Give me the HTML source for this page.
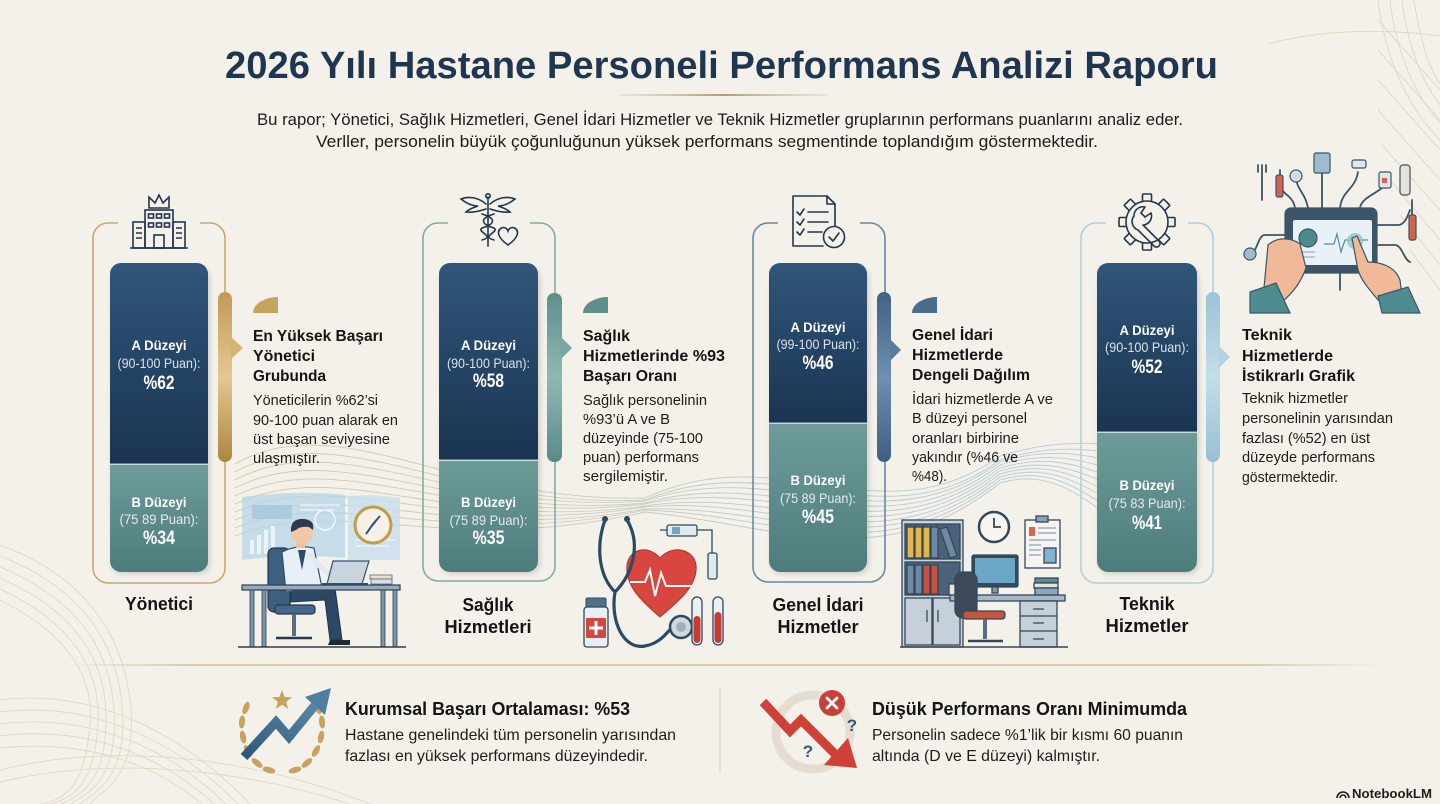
<!DOCTYPE html>
<html><head><meta charset="utf-8"><style>
html,body{margin:0;padding:0;background:#f3f1ea;}
svg{display:block;font-family:"Liberation Sans",sans-serif;}
</style></head><body>
<svg width="1440" height="804" viewBox="0 0 1440 804" xmlns="http://www.w3.org/2000/svg">
<defs>
 <linearGradient id="dk" x1="0" y1="0" x2="0" y2="1"><stop offset="0" stop-color="#30567a"/><stop offset="1" stop-color="#1b3452"/></linearGradient>
 <linearGradient id="lt" x1="0" y1="0" x2="0" y2="1"><stop offset="0" stop-color="#6e9c99"/><stop offset="1" stop-color="#4d7c7d"/></linearGradient>
 <linearGradient id="gold" x1="0" y1="0" x2="0" y2="1"><stop offset="0" stop-color="#c19a57"/><stop offset=".5" stop-color="#e4c88f"/><stop offset="1" stop-color="#ad8541"/></linearGradient>
 <linearGradient id="teal" x1="0" y1="0" x2="0" y2="1"><stop offset="0" stop-color="#5e8f8c"/><stop offset=".5" stop-color="#8fb8b4"/><stop offset="1" stop-color="#5a8a88"/></linearGradient>
 <linearGradient id="slate" x1="0" y1="0" x2="0" y2="1"><stop offset="0" stop-color="#3f6283"/><stop offset=".5" stop-color="#6f90ae"/><stop offset="1" stop-color="#3d5f80"/></linearGradient>
 <linearGradient id="sky" x1="0" y1="0" x2="0" y2="1"><stop offset="0" stop-color="#9cc2d6"/><stop offset=".5" stop-color="#c4dde9"/><stop offset="1" stop-color="#98bfd3"/></linearGradient>
 <linearGradient id="wave" gradientUnits="userSpaceOnUse" x1="235" y1="0" x2="1110" y2="0"><stop offset="0" stop-color="#c8a872"/><stop offset=".4" stop-color="#b9b8a6"/><stop offset=".6" stop-color="#8fb0b5"/><stop offset="1" stop-color="#8fb3cc"/></linearGradient>
 <linearGradient id="hline" x1="0" y1="0" x2="1" y2="0"><stop offset="0" stop-color="#d9cbb0" stop-opacity="0"/><stop offset=".1" stop-color="#d9cbb0"/><stop offset=".9" stop-color="#d9cbb0"/><stop offset="1" stop-color="#d9cbb0" stop-opacity="0"/></linearGradient>
 <linearGradient id="tline" x1="0" y1="0" x2="1" y2="0"><stop offset="0" stop-color="#c9b48e" stop-opacity=".2"/><stop offset=".5" stop-color="#b89a66"/><stop offset="1" stop-color="#c9b48e" stop-opacity=".2"/></linearGradient>
 <linearGradient id="arrowb" x1="0" y1="1" x2="1" y2="0"><stop offset="0" stop-color="#2f5878"/><stop offset="1" stop-color="#5a88a8"/></linearGradient>
 <filter id="sh" x="-20%" y="-20%" width="140%" height="140%"><feGaussianBlur stdDeviation="3"/></filter>
 <clipPath id="c1"><rect x="110" y="263" width="98" height="309" rx="11"/></clipPath>
 <clipPath id="c2"><rect x="439" y="263" width="99" height="309" rx="11"/></clipPath>
 <clipPath id="c3"><rect x="769" y="263" width="98" height="309" rx="11"/></clipPath>
 <clipPath id="c4"><rect x="1097" y="263" width="100" height="309" rx="11"/></clipPath>
</defs>

<rect width="1440" height="804" fill="#f3f1ea"/>

<!-- corner decorations -->
<g fill="none" stroke="#d6c5a3" stroke-width="0.9" opacity="0.55">
 <path d="M0,545 C70,570 120,620 130,700 S100,790 90,804"/>
 <path d="M0,556 C68,582 115,630 122,705 S94,792 80,804"/>
 <path d="M0,567 C66,594 110,640 114,710 S88,794 70,804"/>
 <path d="M0,578 C64,606 105,650 106,715 S82,796 60,804"/>
 <path d="M0,589 C62,618 100,660 98,720 S76,798 50,804"/>
 <path d="M0,600 C60,630 95,670 90,725 S70,800 40,804"/>
 <path d="M0,700 C80,690 170,720 250,804"/>
 <path d="M0,712 C80,702 165,730 238,804"/>
 <path d="M0,724 C80,714 160,740 226,804"/>
 <path d="M0,736 C80,726 155,750 214,804"/>
 <path d="M0,748 C80,740 150,760 202,804"/>
 <path d="M0,770 C120,740 260,760 370,804"/>
 <path d="M0,782 C120,754 250,772 350,804"/>
</g>
<g fill="none" stroke="#d6c5a3" stroke-width="0.9" opacity="0.6">
 <path d="M1268,44 C1320,30 1380,28 1440,36"/>
 <path d="M1378,0 C1385,60 1410,110 1440,140"/>
 <path d="M1390,0 C1396,55 1418,100 1440,122"/>
 <path d="M1402,0 C1408,48 1424,86 1440,104"/>
 <path d="M1414,0 C1420,40 1430,70 1440,84"/>
 <path d="M1378,20 L1440,90"/>
 <path d="M1378,50 L1440,120"/>
 <path d="M1378,80 L1440,150"/>
 <path d="M1378,110 L1440,180"/>
 <path d="M1382,145 L1440,210"/>
 <path d="M1390,180 L1440,240"/>
 <path d="M1400,215 L1440,265"/>
 <path d="M1410,250 L1440,290"/>
</g>

<!-- title -->
<text x="225" y="78" font-size="38" font-weight="700" fill="#1f3650" textLength="993" lengthAdjust="spacingAndGlyphs">2026 Yılı Hastane Personeli Performans Analizi Raporu</text>
<rect x="619" y="94" width="208" height="2" fill="url(#tline)"/>
<text x="257" y="125" font-size="17" fill="#1c1c1c" textLength="926" lengthAdjust="spacingAndGlyphs">Bu rapor; Yönetici, Sağlık Hizmetleri, Genel İdari Hizmetler ve Teknik Hizmetler gruplarının performans puanlarını analiz eder.</text>
<text x="316" y="147" font-size="17" fill="#1c1c1c" textLength="782" lengthAdjust="spacingAndGlyphs">Verller, personelin büyük çoğunluğunun yüksek performans segmentinde toplandığım göstermektedir.</text>

<!-- wavy band -->
<g fill="none" stroke="url(#wave)" stroke-width="0.9" opacity="0.6">
 <path d="M235,464 C340,405 450,503 645,498 C780,435 880,542 1000,456 C1050,441 1080,443 1110,444"/>
 <path d="M235,472 C340,415 450,509 645,500 C780,445 880,546 1000,460 C1050,445 1080,449 1110,452"/>
 <path d="M235,480 C340,425 450,515 645,501 C780,455 880,550 1000,462 C1050,447 1080,455 1110,460"/>
 <path d="M235,488 C340,435 450,521 645,503 C780,465 880,554 1000,465 C1050,450 1080,461 1110,468"/>
 <path d="M235,496 C340,445 450,527 645,504 C780,475 880,558 1000,468 C1050,453 1080,467 1110,476"/>
 <path d="M235,504 C340,455 450,533 645,506 C780,485 880,562 1000,471 C1050,456 1080,473 1110,484"/>
 <path d="M235,512 C340,465 450,539 645,507 C780,495 880,566 1000,474 C1050,459 1080,479 1110,492"/>
 <path d="M235,520 C340,475 450,545 645,509 C780,505 880,570 1000,477 C1050,462 1080,485 1110,500"/>
 <path d="M235,528 C340,485 450,551 645,510 C780,515 880,574 1000,480 C1050,465 1080,491 1110,508"/>
 <path d="M235,536 C340,495 450,557 645,512 C780,525 880,578 1000,483 C1050,468 1080,497 1110,516"/>
</g>

<!-- ============ GROUP 1 : Yönetici ============ -->
<path d="M118,223 H108 A15,15 0 0 0 93,238 V568 A15,15 0 0 0 108,583 H210 A15,15 0 0 0 225,568 V238 A15,15 0 0 0 210,223 H200" fill="none" stroke="#c9a86c" stroke-width="1.6"/>
<!-- building icon -->
<g fill="none" stroke="#22364d" stroke-width="1.6">
 <path d="M149,208 V197 L155,203 L159,195 L163,203 L169,197 V208 Z"/>
 <rect x="145" y="210" width="28" height="38"/>
 <rect x="133" y="222" width="12" height="26"/>
 <rect x="173" y="222" width="12" height="26"/>
 <rect x="148.5" y="214" width="5" height="4"/><rect x="156.5" y="214" width="5" height="4"/><rect x="164.5" y="214" width="5" height="4"/>
 <rect x="148.5" y="223" width="5" height="4"/><rect x="156.5" y="223" width="5" height="4"/><rect x="164.5" y="223" width="5" height="4"/>
 <rect x="154" y="235" width="10" height="13"/>
 <path d="M136,228 H142 M136,233 H142 M136,238 H142 M176,228 H182 M176,233 H182 M176,238 H182"/>
 <path d="M130,248 H188"/>
</g>
<rect x="112" y="268" width="98" height="306" rx="11" fill="#000" opacity=".15" filter="url(#sh)"/>
<g clip-path="url(#c1)">
 <rect x="110" y="263" width="98" height="201" fill="url(#dk)"/>
 <rect x="110" y="464" width="98" height="108" fill="url(#lt)"/>
 <rect x="110" y="463.5" width="98" height="1.5" fill="#dfe8ea" opacity=".8"/>
</g>
<text x="159" y="350" font-size="14" font-weight="700" fill="#fff" text-anchor="middle" textLength="55" lengthAdjust="spacingAndGlyphs">A Düzeyi</text>
<text x="159" y="368" font-size="14" fill="#d8e2ea" text-anchor="middle" textLength="83" lengthAdjust="spacingAndGlyphs">(90-100 Puan):</text>
<text x="159" y="389" font-size="19" font-weight="700" fill="#fff" text-anchor="middle" textLength="31" lengthAdjust="spacingAndGlyphs">%62</text>
<text x="159" y="507" font-size="14" font-weight="700" fill="#fff" text-anchor="middle" textLength="55" lengthAdjust="spacingAndGlyphs">B Düzeyi</text>
<text x="159" y="524" font-size="14" fill="#e2ecea" text-anchor="middle" textLength="79" lengthAdjust="spacingAndGlyphs">(75 89 Puan):</text>
<text x="159" y="544" font-size="19" font-weight="700" fill="#fff" text-anchor="middle" textLength="32" lengthAdjust="spacingAndGlyphs">%34</text>
<text x="159" y="610" font-size="18" font-weight="700" fill="#141414" text-anchor="middle" textLength="68" lengthAdjust="spacingAndGlyphs">Yönetici</text>
<rect x="218" y="292" width="14" height="170" rx="7" fill="url(#gold)"/>
<polygon points="231,337 243,348 231,359" fill="#d4b373"/>
<path d="M253,313 A25,16 0 0 1 278,297 L278,313 Z" fill="#c9a25f"/>
<g fill="#141414">
<text x="253" y="341" font-size="16" font-weight="700" textLength="130" lengthAdjust="spacingAndGlyphs">En Yüksek Başarı</text>
<text x="253" y="361" font-size="16" font-weight="700" textLength="62" lengthAdjust="spacingAndGlyphs">Yönetici</text>
<text x="253" y="381" font-size="16" font-weight="700" textLength="73" lengthAdjust="spacingAndGlyphs">Grubunda</text>
</g>
<g fill="#1d1d1d" font-size="15">
<text x="253" y="405" textLength="125" lengthAdjust="spacingAndGlyphs">Yöneticilerin %62’si</text>
<text x="253" y="425" textLength="145" lengthAdjust="spacingAndGlyphs">90-100 puan alarak en</text>
<text x="253" y="444" textLength="137" lengthAdjust="spacingAndGlyphs">üst başan seviyesine</text>
<text x="253" y="463" textLength="67" lengthAdjust="spacingAndGlyphs">ulaşmıştır.</text>
</g>
<!-- man at desk illustration -->
<g>
 <path d="M242,497 Q295,490 345,495 L345,558 Q295,553 242,560 Z" fill="#b7d6e8" opacity=".75"/>
 <path d="M348,496 Q375,494 400,498 V560 H348 Z" fill="#c5dfee" opacity=".8"/>
 <g fill="#eef6fb" opacity=".9">
  <rect x="250" y="540" width="4" height="14"/><rect x="257" y="535" width="4" height="19"/><rect x="264" y="530" width="4" height="24"/><rect x="271" y="526" width="4" height="28"/>
 </g>
 <rect x="252" y="505" width="40" height="14" fill="#9fc3da" opacity=".7"/>
 <circle cx="325" cy="520" r="10" fill="none" stroke="#eef6fb" stroke-width="1.5"/>
 <path d="M355,540 H395 M355,546 H390 M300,505 H340 M300,510 H335" stroke="#eef6fb" stroke-width="1.2"/>
 <circle cx="373" cy="525" r="18" fill="#f6f1e4" stroke="#c49a4c" stroke-width="3"/>
 <path d="M380,516 L372,527 L366,534 L375,524 Z" fill="#c9473d"/>
 <path d="M366,534 L373,524 L380,516" stroke="#2d5a7c" stroke-width="2" fill="none"/>
 <rect x="268" y="548" width="22" height="64" rx="6" fill="#3e5f7e" stroke="#24384d" stroke-width="1.2"/>
 <rect x="275" y="605" width="40" height="9" rx="3" fill="#45688a" stroke="#24384d" stroke-width="1.2"/>
 <rect x="292" y="614" width="4" height="22" fill="#5a6e80"/>
 <path d="M276,638 H312" stroke="#24384d" stroke-width="2.5"/>
 <path d="M292,585 L335,588 L342,640 L330,640 L325,600 L290,602 Z" fill="#2d4864" stroke="#1e3246" stroke-width="1"/>
 <path d="M330,640 H350 V645 H328 Z" fill="#1e2a36"/>
 <path d="M282,552 Q297,544 314,548 L322,588 L286,592 Z" fill="#e6f0f6" stroke="#35506a" stroke-width="1.2"/>
 <path d="M298,550 L302,570 L306,550 Z" fill="#2d4d70"/>
 <path d="M310,556 Q325,572 338,580" stroke="#dfeaf2" stroke-width="6" fill="none" stroke-linecap="round"/>
 <rect x="296" y="540" width="9" height="8" fill="#eebf9c"/>
 <circle cx="302" cy="533" r="11" fill="#f1c8a5"/>
 <path d="M291,532 Q290,518 304,519 Q315,520 313,530 L309,527 Q300,526 296,530 Z" fill="#2b3a4e"/>
 <path d="M333,561 H369 L362,584 H327 Z" fill="#c9d4de" stroke="#35506a" stroke-width="1.2"/>
 <path d="M322,584 H368" stroke="#35506a" stroke-width="2"/>
 <rect x="370" y="575" width="22" height="4" fill="#e8e2d2" stroke="#566a7c" stroke-width=".8"/>
 <rect x="371" y="579" width="21" height="5" fill="#d8dfe5" stroke="#566a7c" stroke-width=".8"/>
 <rect x="242" y="585" width="158" height="5" fill="#97aabb" stroke="#2b3f55" stroke-width="1.2"/>
 <rect x="250" y="590" width="4" height="57" fill="#7f94a7" stroke="#2b3f55" stroke-width=".8"/>
 <rect x="262" y="590" width="4" height="57" fill="#7f94a7" stroke="#2b3f55" stroke-width=".8"/>
 <rect x="381" y="590" width="4" height="57" fill="#7f94a7" stroke="#2b3f55" stroke-width=".8"/>
 <rect x="393" y="590" width="4" height="57" fill="#7f94a7" stroke="#2b3f55" stroke-width=".8"/>
 <path d="M238,647 H406" stroke="#2b3f55" stroke-width="1.5"/>
</g>

<!-- ============ GROUP 2 : Sağlık ============ -->
<path d="M448,223 H438 A15,15 0 0 0 423,238 V566 A15,15 0 0 0 438,581 H540 A15,15 0 0 0 555,566 V238 A15,15 0 0 0 540,223 H530" fill="none" stroke="#86aaa7" stroke-width="1.6"/>
<!-- caduceus icon -->
<g fill="none" stroke="#22364d" stroke-width="1.6" stroke-linecap="round">
 <path d="M488,197 V246"/>
 <circle cx="488" cy="196" r="2.2"/>
 <path d="M486,204 C478,197 468,196 461,199 C466,203 472,206 478,206 C472,208 468,210 466,212 C473,213 480,211 486,209"/>
 <path d="M490,204 C498,197 508,196 515,199 C510,203 504,206 498,206 C504,208 508,210 510,212 C503,213 496,211 490,209"/>
 <path d="M482,214 C496,218 496,224 482,228 C476,232 496,236 482,240"/>
 <path d="M494,214 C480,218 480,224 494,228 C500,232 480,236 494,240"/>
 <path d="M508,245 C498,238 497,232 500,229 C503,226 507,228 508,231 C509,228 513,226 516,229 C519,232 518,238 508,245 Z"/>
</g>
<rect x="441" y="268" width="99" height="306" rx="11" fill="#000" opacity=".15" filter="url(#sh)"/>
<g clip-path="url(#c2)">
 <rect x="439" y="263" width="99" height="197" fill="url(#dk)"/>
 <rect x="439" y="460" width="99" height="112" fill="url(#lt)"/>
 <rect x="439" y="459.5" width="99" height="1.5" fill="#dfe8ea" opacity=".8"/>
</g>
<text x="488.5" y="350" font-size="14" font-weight="700" fill="#fff" text-anchor="middle" textLength="55" lengthAdjust="spacingAndGlyphs">A Düzeyi</text>
<text x="488.5" y="368" font-size="14" fill="#d8e2ea" text-anchor="middle" textLength="83" lengthAdjust="spacingAndGlyphs">(90-100 Puan):</text>
<text x="488.5" y="387" font-size="19" font-weight="700" fill="#fff" text-anchor="middle" textLength="31" lengthAdjust="spacingAndGlyphs">%58</text>
<text x="488.5" y="507" font-size="14" font-weight="700" fill="#fff" text-anchor="middle" textLength="55" lengthAdjust="spacingAndGlyphs">B Düzeyi</text>
<text x="488.5" y="525" font-size="14" fill="#e2ecea" text-anchor="middle" textLength="78" lengthAdjust="spacingAndGlyphs">(75 89 Puan):</text>
<text x="488.5" y="544" font-size="19" font-weight="700" fill="#fff" text-anchor="middle" textLength="32" lengthAdjust="spacingAndGlyphs">%35</text>
<text x="488" y="611" font-size="18" font-weight="700" fill="#141414" text-anchor="middle" textLength="51" lengthAdjust="spacingAndGlyphs">Sağlık</text>
<text x="488" y="633" font-size="18" font-weight="700" fill="#141414" text-anchor="middle" textLength="87" lengthAdjust="spacingAndGlyphs">Hizmetleri</text>
<rect x="547" y="293" width="15" height="169" rx="7" fill="url(#teal)"/>
<polygon points="561,337 572,348 561,359" fill="#7aa6a3"/>
<path d="M583,313 A25,16 0 0 1 608,297 L608,313 Z" fill="#5f8f8c"/>
<g fill="#141414">
<text x="583" y="341" font-size="16" font-weight="700" textLength="47" lengthAdjust="spacingAndGlyphs">Sağlık</text>
<text x="583" y="361" font-size="16" font-weight="700" textLength="142" lengthAdjust="spacingAndGlyphs">Hizmetlerinde %93</text>
<text x="583" y="381" font-size="16" font-weight="700" textLength="94" lengthAdjust="spacingAndGlyphs">Başarı Oranı</text>
</g>
<g fill="#1d1d1d" font-size="15">
<text x="583" y="405" textLength="124" lengthAdjust="spacingAndGlyphs">Sağlık personelinin</text>
<text x="583" y="424" textLength="87" lengthAdjust="spacingAndGlyphs">%93’ü A ve B</text>
<text x="583" y="443" textLength="120" lengthAdjust="spacingAndGlyphs">düzeyinde (75-100</text>
<text x="583" y="462" textLength="116" lengthAdjust="spacingAndGlyphs">puan) performans</text>
<text x="583" y="481" textLength="85" lengthAdjust="spacingAndGlyphs">sergilemiştir.</text>
</g>
<!-- medical illustration -->
<g>
 <path d="M660,617 C640,600 625,585 627,565 C629,549 648,544 660,558 C672,544 694,549 696,565 C698,585 680,600 660,617 Z" fill="#d8463f" stroke="#a93630" stroke-width="1"/>
 <path d="M630,582 H645 L650,570 L655,596 L661,573 L666,586 H692" fill="none" stroke="#fff" stroke-width="2"/>
 <path d="M605,520 C596,545 598,575 615,592 M627,520 C642,545 632,575 615,592 M615,592 C610,622 624,650 645,646 C662,643 668,630 672,628" fill="none" stroke="#2b4a63" stroke-width="3.2" stroke-linecap="round"/>
 <circle cx="605" cy="519" r="3" fill="#2b4a63"/><circle cx="627" cy="519" r="3" fill="#2b4a63"/>
 <circle cx="681" cy="627" r="11" fill="#cfd8de" stroke="#2b4a63" stroke-width="2.5"/>
 <circle cx="681" cy="627" r="5" fill="#9fb0bc"/>
 <rect x="667" y="525" width="30" height="11" rx="2" fill="#dfe9ee" stroke="#2b4a63" stroke-width="1.3"/>
 <rect x="672" y="527" width="8" height="7" fill="#6fa5bf"/>
 <path d="M697,530 H712 V553 M660,530 H667" fill="none" stroke="#2b4a63" stroke-width="1.3"/>
 <rect x="708" y="553" width="9" height="26" rx="2" fill="#dfe9ee" stroke="#2b4a63" stroke-width="1.3"/>
 <rect x="586" y="598" width="20" height="9" rx="1.5" fill="#50708a" stroke="#2b4a63" stroke-width="1"/>
 <rect x="584" y="607" width="24" height="40" rx="3" fill="#e9eff3" stroke="#2b4a63" stroke-width="1.3"/>
 <rect x="586" y="618" width="20" height="20" fill="#d6463f"/>
 <path d="M596,621 V635 M589,628 H603" stroke="#fff" stroke-width="3"/>
 <rect x="692" y="597" width="10" height="48" rx="5" fill="#e9eff3" stroke="#2b4a63" stroke-width="1.3"/>
 <rect x="693.5" y="616" width="7" height="27" rx="3.5" fill="#c93a33"/>
 <rect x="713" y="597" width="10" height="48" rx="5" fill="#e9eff3" stroke="#2b4a63" stroke-width="1.3"/>
 <rect x="714.5" y="612" width="7" height="31" rx="3.5" fill="#c93a33"/>
</g>

<!-- ============ GROUP 3 : Genel İdari ============ -->
<path d="M778,223 H768 A15,15 0 0 0 753,238 V567 A15,15 0 0 0 768,582 H870 A15,15 0 0 0 885,567 V238 A15,15 0 0 0 870,223 H860" fill="none" stroke="#6a88a4" stroke-width="1.6"/>
<!-- checklist icon -->
<g fill="none" stroke="#22364d" stroke-width="1.6" stroke-linecap="round" stroke-linejoin="round">
 <path d="M823,246 H793 V196 H827 L835,204 V226"/>
 <path d="M827,196 V204 H835"/>
 <path d="M797,212 L800,215 L804,209 M797,222 L800,225 L804,219 M797,232 L800,235 L804,229"/>
 <path d="M808,212 H828 M808,222 H828 M808,232 H822"/>
 <circle cx="834" cy="237" r="10.5" fill="#f3f1ea"/>
 <path d="M829,237 L833,241 L839,233"/>
</g>
<rect x="771" y="268" width="98" height="306" rx="11" fill="#000" opacity=".15" filter="url(#sh)"/>
<g clip-path="url(#c3)">
 <rect x="769" y="263" width="98" height="160" fill="url(#dk)"/>
 <rect x="769" y="423" width="98" height="149" fill="url(#lt)"/>
 <rect x="769" y="422.5" width="98" height="1.5" fill="#dfe8ea" opacity=".8"/>
</g>
<text x="818" y="332" font-size="14" font-weight="700" fill="#fff" text-anchor="middle" textLength="55" lengthAdjust="spacingAndGlyphs">A Düzeyi</text>
<text x="818" y="349" font-size="14" fill="#d8e2ea" text-anchor="middle" textLength="83" lengthAdjust="spacingAndGlyphs">(99-100 Puan):</text>
<text x="818" y="369" font-size="19" font-weight="700" fill="#fff" text-anchor="middle" textLength="31" lengthAdjust="spacingAndGlyphs">%46</text>
<text x="818" y="485" font-size="14" font-weight="700" fill="#fff" text-anchor="middle" textLength="55" lengthAdjust="spacingAndGlyphs">B Düzeyi</text>
<text x="818" y="503" font-size="14" fill="#e2ecea" text-anchor="middle" textLength="76" lengthAdjust="spacingAndGlyphs">(75 89 Puan):</text>
<text x="818" y="523" font-size="19" font-weight="700" fill="#fff" text-anchor="middle" textLength="32" lengthAdjust="spacingAndGlyphs">%45</text>
<text x="818" y="611" font-size="18" font-weight="700" fill="#141414" text-anchor="middle" textLength="91" lengthAdjust="spacingAndGlyphs">Genel İdari</text>
<text x="818" y="633" font-size="18" font-weight="700" fill="#141414" text-anchor="middle" textLength="81" lengthAdjust="spacingAndGlyphs">Hizmetler</text>
<rect x="877" y="292" width="14" height="170" rx="7" fill="url(#slate)"/>
<polygon points="890,339 901,350 890,361" fill="#5a7c9c"/>
<path d="M912,313 A25,16 0 0 1 937,297 L937,313 Z" fill="#4a6d8c"/>
<g fill="#141414">
<text x="912" y="340" font-size="16" font-weight="700" textLength="81" lengthAdjust="spacingAndGlyphs">Genel İdari</text>
<text x="912" y="360" font-size="16" font-weight="700" textLength="91" lengthAdjust="spacingAndGlyphs">Hizmetlerde</text>
<text x="912" y="380" font-size="16" font-weight="700" textLength="118" lengthAdjust="spacingAndGlyphs">Dengeli Dağılım</text>
</g>
<g fill="#1d1d1d" font-size="15">
<text x="912" y="404" textLength="141" lengthAdjust="spacingAndGlyphs">İdari hizmetlerde A ve</text>
<text x="912" y="423" textLength="115" lengthAdjust="spacingAndGlyphs">B düzeyi personel</text>
<text x="912" y="443" textLength="107" lengthAdjust="spacingAndGlyphs">oranları birbirine</text>
<text x="912" y="462" textLength="106" lengthAdjust="spacingAndGlyphs">yakındır (%46 ve</text>
<text x="912" y="481" textLength="35" lengthAdjust="spacingAndGlyphs">%48).</text>
</g>
<!-- office illustration -->
<g stroke="#33475b" stroke-width="1.3">
 <rect x="902" y="520" width="61" height="127" fill="#c9d3dc"/>
 <rect x="905" y="524" width="55" height="35" fill="#4c6278"/>
 <rect x="907" y="527" width="7" height="31" fill="#e3b54a"/>
 <rect x="915" y="527" width="7" height="31" fill="#e3b54a"/>
 <rect x="923" y="527" width="7" height="31" fill="#e3b54a"/>
 <rect x="931" y="527" width="7" height="31" fill="#7089a2"/>
 <path d="M940,529 L947,527 L957,556 L950,558 Z" fill="#7089a2"/>
 <rect x="905" y="562" width="55" height="33" fill="#4c6278"/>
 <rect x="907" y="565" width="7" height="29" fill="#7089a2"/>
 <rect x="915" y="565" width="7" height="29" fill="#7089a2"/>
 <rect x="923" y="565" width="7" height="29" fill="#c9503f"/>
 <rect x="931" y="565" width="7" height="29" fill="#c9503f"/>
 <rect x="905" y="598" width="27" height="47" fill="#c6d0d9"/>
 <rect x="933" y="598" width="27" height="47" fill="#c6d0d9"/>
 <path d="M927,610 V622 M938,610 V622" fill="none"/>
 <circle cx="994" cy="527" r="15" fill="#f7f5f0" stroke-width="2.5"/>
 <path d="M994,518 V527 H1001" fill="none" stroke-width="1.8"/>
 <rect x="1025" y="520" width="35" height="48" fill="#f5f4f0"/>
 <rect x="1036" y="516" width="12" height="6" fill="#8ca0b2"/>
 <rect x="1029" y="527" width="6" height="9" fill="#d36655" stroke="none"/>
 <path d="M1038,528 H1056 M1038,533 H1056 M1029,540 H1056 M1029,545 H1041 M1029,550 H1041 M1029,555 H1041" fill="none" stroke="#8aa0b3" stroke-width="1.2"/>
 <rect x="1044" y="548" width="12" height="15" fill="#7fb3cf"/>
 <rect x="972" y="555" width="46" height="32" rx="2" fill="#34495e"/>
 <rect x="975" y="558" width="40" height="25" fill="#6aa6c6" stroke="none"/>
 <rect x="992" y="587" width="6" height="6" fill="#8596a6"/>
 <rect x="950" y="595" width="115" height="6" fill="#a9b8c6"/>
 <rect x="1020" y="601" width="37" height="46" fill="#c6d0d9"/>
 <path d="M1020,616 H1057 M1020,631 H1057 M1033,609 H1044 M1033,623 H1044 M1033,639 H1044" fill="none"/>
 <rect x="1035" y="578" width="23" height="5" fill="#5c8e99"/>
 <rect x="1034" y="583" width="24" height="5" fill="#e8e2d2"/>
 <rect x="1035" y="588" width="23" height="7" fill="#87a9c0"/>
 <rect x="949" y="584" width="8" height="11" fill="#e9e4da"/>
 <rect x="955" y="572" width="22" height="46" rx="8" fill="#3d4a57"/>
 <rect x="963" y="611" width="42" height="8" rx="3" fill="#c8553a"/>
 <rect x="983" y="619" width="4" height="20" fill="#5a6e80" stroke="none"/>
 <path d="M968,641 H1003" fill="none" stroke-width="2.5"/>
 <path d="M900,647 H1068" fill="none" stroke-width="1.5"/>
</g>

<!-- ============ GROUP 4 : Teknik ============ -->
<path d="M1106,223 H1096 A15,15 0 0 0 1081,238 V568 A15,15 0 0 0 1096,583 H1198 A15,15 0 0 0 1213,568 V238 A15,15 0 0 0 1198,223 H1188" fill="none" stroke="#b2cfde" stroke-width="1.6"/>
<!-- gear wrench icon -->
<g fill="#f3f1ea" stroke="#22364d" stroke-width="1.6" stroke-linejoin="round">
 <g transform="translate(1147,222)">
  <rect x="-4.5" y="-28" width="9" height="9" rx="1"/>
  <rect x="-4.5" y="-28" width="9" height="9" rx="1" transform="rotate(45)"/>
  <rect x="-4.5" y="-28" width="9" height="9" rx="1" transform="rotate(90)"/>
  <rect x="-4.5" y="-28" width="9" height="9" rx="1" transform="rotate(135)"/>
  <rect x="-4.5" y="-28" width="9" height="9" rx="1" transform="rotate(180)"/>
  <rect x="-4.5" y="-28" width="9" height="9" rx="1" transform="rotate(225)"/>
  <rect x="-4.5" y="-28" width="9" height="9" rx="1" transform="rotate(270)"/>
  <rect x="-4.5" y="-28" width="9" height="9" rx="1" transform="rotate(315)"/>
  <circle r="21"/>
  <path d="M-13,-6 A9,9 0 0 1 -2,-15 L-6,-9 L-2,-5 L4,-9 A9,9 0 0 1 -4,3 L12,19 A3.5,3.5 0 0 1 7,24 L-9,8 A9,9 0 0 1 -13,-6 Z" fill="none"/>
 </g>
</g>
<rect x="1099" y="268" width="100" height="306" rx="11" fill="#000" opacity=".15" filter="url(#sh)"/>
<g clip-path="url(#c4)">
 <rect x="1097" y="263" width="100" height="169" fill="url(#dk)"/>
 <rect x="1097" y="432" width="100" height="140" fill="url(#lt)"/>
 <rect x="1097" y="431.5" width="100" height="1.5" fill="#dfe8ea" opacity=".8"/>
</g>
<text x="1147" y="335" font-size="14" font-weight="700" fill="#fff" text-anchor="middle" textLength="55" lengthAdjust="spacingAndGlyphs">A Düzeyi</text>
<text x="1147" y="352" font-size="14" fill="#d8e2ea" text-anchor="middle" textLength="84" lengthAdjust="spacingAndGlyphs">(90-100 Puan):</text>
<text x="1147" y="373" font-size="19" font-weight="700" fill="#fff" text-anchor="middle" textLength="31" lengthAdjust="spacingAndGlyphs">%52</text>
<text x="1147" y="490" font-size="14" font-weight="700" fill="#fff" text-anchor="middle" textLength="55" lengthAdjust="spacingAndGlyphs">B Düzeyi</text>
<text x="1147" y="508" font-size="14" fill="#e2ecea" text-anchor="middle" textLength="77" lengthAdjust="spacingAndGlyphs">(75 83 Puan):</text>
<text x="1147" y="529" font-size="19" font-weight="700" fill="#fff" text-anchor="middle" textLength="30" lengthAdjust="spacingAndGlyphs">%41</text>
<text x="1147" y="610" font-size="18" font-weight="700" fill="#141414" text-anchor="middle" textLength="55" lengthAdjust="spacingAndGlyphs">Teknik</text>
<text x="1147" y="632" font-size="18" font-weight="700" fill="#141414" text-anchor="middle" textLength="83" lengthAdjust="spacingAndGlyphs">Hizmetler</text>
<rect x="1206" y="292" width="14" height="170" rx="7" fill="url(#sky)"/>
<polygon points="1219,346 1230,357 1219,368" fill="#b4d2e0"/>
<g fill="#141414">
<text x="1242" y="340" font-size="16" font-weight="700" textLength="50" lengthAdjust="spacingAndGlyphs">Teknik</text>
<text x="1242" y="361" font-size="16" font-weight="700" textLength="91" lengthAdjust="spacingAndGlyphs">Hizmetlerde</text>
<text x="1242" y="381" font-size="16" font-weight="700" textLength="113" lengthAdjust="spacingAndGlyphs">İstikrarlı Grafik</text>
</g>
<g fill="#1d1d1d" font-size="15">
<text x="1242" y="403" textLength="106" lengthAdjust="spacingAndGlyphs">Teknik hizmetler</text>
<text x="1242" y="423" textLength="151" lengthAdjust="spacingAndGlyphs">personelinin yarısından</text>
<text x="1242" y="443" textLength="128" lengthAdjust="spacingAndGlyphs">fazlası (%52) en üst</text>
<text x="1242" y="462" textLength="133" lengthAdjust="spacingAndGlyphs">düzeyde performans</text>
<text x="1242" y="482" textLength="96" lengthAdjust="spacingAndGlyphs">göstermektedir.</text>
</g>
<!-- tablet illustration -->
<g fill="none" stroke="#3c5468" stroke-width="1.8" stroke-linecap="round">
 <path d="M1295,208 C1293,195 1282,195 1280,185 V170"/>
 <path d="M1308,208 C1306,195 1298,190 1296,180"/>
 <path d="M1322,208 V170"/>
 <path d="M1340,208 C1342,190 1355,190 1358,172"/>
 <path d="M1360,208 C1362,195 1385,192 1385,182"/>
 <path d="M1285,235 H1265 C1258,235 1258,250 1252,252"/>
 <path d="M1377,225 H1398 C1405,225 1408,215 1410,210"/>
 <path d="M1377,245 H1395 C1402,245 1404,260 1410,262"/>
 <path d="M1300,273 C1300,285 1290,290 1285,292"/>
 <path d="M1340,273 V290"/>
 <path d="M1262,165 V200 M1258,165 V172 M1266,165 V172"/>
 <path d="M1412,200 V240"/>
</g>
<g stroke="#3c5468" stroke-width="1.2">
 <rect x="1276" y="175" width="7" height="22" rx="2" fill="#d2644d"/>
 <circle cx="1296" cy="176" r="6" fill="#cfdde4"/>
 <rect x="1314" y="153" width="16" height="20" rx="2" fill="#9fbccc"/>
 <rect x="1352" y="160" width="14" height="8" rx="2" fill="#dfe7ec"/>
 <rect x="1379" y="172" width="12" height="16" rx="2" fill="#dfe7ec"/>
 <rect x="1382" y="178" width="5" height="5" fill="#d2644d" stroke="none"/>
 <rect x="1400" y="165" width="10" height="30" rx="3" fill="#e6e2d8"/>
 <rect x="1409" y="215" width="7" height="25" rx="2" fill="#d2644d"/>
 <circle cx="1250" cy="254" r="6" fill="#9fbccc"/>
 <rect x="1285" y="208" width="92" height="65" rx="6" fill="#3c5468"/>
 <rect x="1293" y="220" width="79" height="45" rx="2" fill="#e8f2f6" stroke="none"/>
 <circle cx="1308" cy="238" r="9" fill="#4d8a8a"/>
 <path d="M1324,244 H1334 L1337,234 L1341,252 L1345,240 H1368" fill="none" stroke="#5a8aa8"/>
 <circle cx="1355" cy="241" r="8" fill="#8cc4c4" opacity=".8" stroke="none"/>
 <path d="M1296,252 H1315 M1296,257 H1315" stroke="#9fb3c2"/>
 <path d="M1268,245 C1278,236 1292,238 1300,244 L1306,268 C1300,285 1290,295 1282,302 L1264,288 Z" fill="#f0b99a"/>
 <path d="M1250,292 L1276,283 L1290,313 H1250 Z" fill="#4f8c8f"/>
 <path d="M1352,238 L1357,236 L1368,262 C1380,262 1395,266 1400,280 L1402,296 L1378,300 C1370,290 1362,282 1358,270 Z" fill="#f0b99a"/>
 <path d="M1378,296 L1408,287 L1420,313 H1382 Z" fill="#4f8c8f"/>
</g>

<!-- bottom section -->
<rect x="60" y="664" width="1320" height="2" fill="url(#hline)"/>
<rect x="719.5" y="686" width="1" height="86" fill="#ddd6c8"/>
<!-- laurel icon -->
<g fill="#c9a260">
 <ellipse cx="246" cy="708" rx="6.5" ry="3" transform="rotate(-70 246 708)"/>
 <ellipse cx="242" cy="722" rx="6.5" ry="3" transform="rotate(-85 242 722)"/>
 <ellipse cx="243" cy="737" rx="6.5" ry="3" transform="rotate(-100 243 737)"/>
 <ellipse cx="248" cy="751" rx="6.5" ry="3" transform="rotate(-120 248 751)"/>
 <ellipse cx="257" cy="763" rx="6.5" ry="3" transform="rotate(-140 257 763)"/>
 <ellipse cx="269" cy="770" rx="6.5" ry="3" transform="rotate(-165 269 770)"/>
 <ellipse cx="318" cy="708" rx="6.5" ry="3" transform="rotate(70 318 708)"/>
 <ellipse cx="322" cy="722" rx="6.5" ry="3" transform="rotate(85 322 722)"/>
 <ellipse cx="321" cy="737" rx="6.5" ry="3" transform="rotate(100 321 737)"/>
 <ellipse cx="316" cy="751" rx="6.5" ry="3" transform="rotate(120 316 751)"/>
 <ellipse cx="307" cy="763" rx="6.5" ry="3" transform="rotate(140 307 763)"/>
 <ellipse cx="295" cy="770" rx="6.5" ry="3" transform="rotate(165 295 770)"/>
 <polygon points="282,690 284.6,697 292,697.3 286.2,701.9 288.2,709 282,704.8 275.8,709 277.8,701.9 272,697.3 279.4,697"/>
</g>
<path d="M244,757 L276,722 L289,737 L316,704" fill="none" stroke="url(#arrowb)" stroke-width="9" stroke-linejoin="miter"/>
<polygon points="305,697 331,688 325,715" fill="#4f7ea0"/>
<g fill="#141414">
<text x="345" y="715" font-size="18" font-weight="700" textLength="285" lengthAdjust="spacingAndGlyphs">Kurumsal Başarı Ortalaması: %53</text>
</g>
<g fill="#1d1d1d" font-size="16">
<text x="345" y="740" textLength="331" lengthAdjust="spacingAndGlyphs">Hastane genelindeki tüm personelin yarısından</text>
<text x="345" y="761" textLength="303" lengthAdjust="spacingAndGlyphs">fazlası en yüksek performans düzeyindedir.</text>
</g>
<!-- down arrow icon -->
<circle cx="813" cy="732" r="37" fill="none" stroke="#e5ddd0" stroke-width="9"/>
<path d="M763,702 L790,731 L801,720 L836,755" fill="none" stroke="#cf4037" stroke-width="9" stroke-linejoin="miter"/>
<polygon points="824,765 857,768 848,738" fill="#cf4037"/>
<circle cx="832" cy="703" r="13" fill="#c8403a"/>
<path d="M827,698 L837,708 M837,698 L827,708" stroke="#fff" stroke-width="2.8" stroke-linecap="round"/>
<text x="808" y="757" font-size="17" font-weight="700" fill="#2f5a7a" text-anchor="middle">?</text>
<text x="852" y="731" font-size="17" font-weight="700" fill="#2f5a7a" text-anchor="middle">?</text>
<g fill="#141414">
<text x="872" y="715" font-size="18" font-weight="700" textLength="315" lengthAdjust="spacingAndGlyphs">Düşük Performans Oranı Minimumda</text>
</g>
<g fill="#1d1d1d" font-size="16">
<text x="872" y="740" textLength="311" lengthAdjust="spacingAndGlyphs">Personelin sadece %1’lik bir kısmı 60 puanın</text>
<text x="872" y="761" textLength="228" lengthAdjust="spacingAndGlyphs">altında (D ve E düzeyi) kalmıştır.</text>
</g>

<!-- NotebookLM -->
<g fill="none" stroke="#1e1e1e" stroke-width="1.6">
 <path d="M1337,798 A6,6 0 0 1 1349,798"/>
 <path d="M1340,798 A3,3 0 0 1 1346,798"/>
</g>
<text x="1352" y="798" font-size="13" font-weight="700" fill="#1e1e1e" textLength="80" lengthAdjust="spacingAndGlyphs">NotebookLM</text>
</svg>
</body></html>
